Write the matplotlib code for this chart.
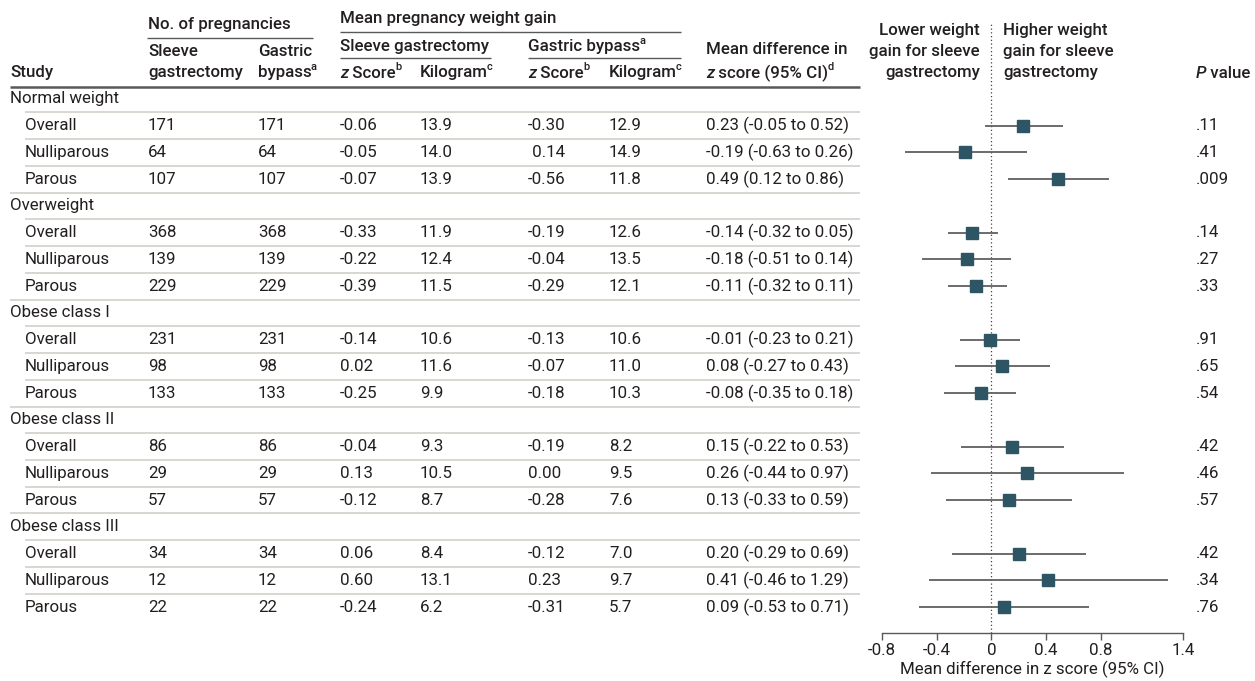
import matplotlib
matplotlib.use("Agg")
import matplotlib.pyplot as plt

plt.rcParams['font.family'] = ['Roboto', 'DejaVu Sans']
plt.rcParams['axes.unicode_minus'] = False

# ---- data -------------------------------------------------------------
groups = ["Normal weight", "Overweight", "Obese class I", "Obese class II", "Obese class III"]
subgroups = ["Overall", "Nulliparous", "Parous"]

n_sleeve = [171, 64, 107, 368, 139, 229, 231, 98, 133, 86, 29, 57, 34, 12, 22]
n_bypass = [171, 64, 107, 368, 139, 229, 231, 98, 133, 86, 29, 57, 34, 12, 22]

sleeve_z = ["-0.06", "-0.05", "-0.07", "-0.33", "-0.22", "-0.39", "-0.14", "0.02", "-0.25",
            "-0.04", "0.13", "-0.12", "0.06", "0.60", "-0.24"]
sleeve_kg = ["13.9", "14.0", "13.9", "11.9", "12.4", "11.5", "10.6", "11.6", "9.9",
             "9.3", "10.5", "8.7", "8.4", "13.1", "6.2"]
bypass_z = ["-0.30", " 0.14", "-0.56", "-0.19", "-0.04", "-0.29", "-0.13", "-0.07", "-0.18",
            "-0.19", "0.00", "-0.28", "-0.12", "0.23", "-0.31"]
bypass_kg = ["12.9", "14.9", "11.8", "12.6", "13.5", "12.1", "10.6", "11.0", "10.3",
             "8.2", "9.5", "7.6", "7.0", "9.7", "5.7"]

mean_diff = [0.23, -0.19, 0.49, -0.14, -0.18, -0.11, -0.01, 0.08, -0.08,
             0.15, 0.26, 0.13, 0.20, 0.41, 0.09]
ci_low = [-0.05, -0.63, 0.12, -0.32, -0.51, -0.32, -0.23, -0.27, -0.35,
          -0.22, -0.44, -0.33, -0.29, -0.46, -0.53]
ci_high = [0.52, 0.26, 0.86, 0.05, 0.14, 0.11, 0.21, 0.43, 0.18,
           0.53, 0.97, 0.59, 0.69, 1.29, 0.71]
p_values = [".11", ".41", ".009", ".14", ".27", ".33", ".91", ".65", ".54",
            ".42", ".46", ".57", ".42", ".34", ".76"]

x_ticks = [-0.8, -0.4, 0, 0.4, 0.8, 1.4]
x_tick_labels = ["-0.8", "-0.4", "0", "0.4", "0.8", "1.4"]

# ---- styling ----------------------------------------------------------
W, H = 1255, 681
TXT = "#231f20"
SEP = "#d2d0c8"
RULE = "#58595b"
SQUARE = "#2e5563"
WHISKER = "#606060"
FS = 12.2
FS_SUP = 8

fig = plt.figure(figsize=(W / 100, H / 100), dpi=100)
ax = fig.add_axes([0, 0, 1, 1])
ax.set_xlim(0, W)
ax.set_ylim(H, 0)
ax.axis("off")
renderer = fig.canvas.get_renderer()


def rich(x, y, pieces, size=FS, weight="normal"):
    """Draw a run of text pieces left to right; a piece is (text, kind)."""
    cx = x
    for text, kind in pieces:
        kw = dict(color=TXT, va="center", ha="left", fontweight=weight)
        if kind == "sup":
            t = ax.text(cx - 1.0, y - 5.5, text, fontsize=FS_SUP, **kw)
        elif kind == "it":
            t = ax.text(cx, y, text, fontsize=size, fontstyle="italic", **kw)
        else:
            t = ax.text(cx, y, text, fontsize=size, **kw)
        cx += t.get_window_extent(renderer).width
    return cx


def hline(y, x0, x1, color, lw):
    ax.plot([x0, x1], [y, y], color=color, lw=lw, solid_capstyle="butt")


# ---- header -----------------------------------------------------------
HW = "medium"
rich(148, 25, [("No. of pregnancies", "")], weight=HW)
hline(38, 147, 313, RULE, 1.0)
rich(340, 19, [("Mean pregnancy weight gain", "")], weight=HW)
hline(32, 340, 681, RULE, 1.0)
rich(340, 47, [("Sleeve gastrectomy", "")], weight=HW)
hline(58, 340, 491, RULE, 1.0)
rich(528, 47, [("Gastric bypass", ""), ("a", "sup")], weight=HW)
hline(58, 528, 681, RULE, 1.0)

rich(10, 73, [("Study", "")], weight=HW)
rich(148, 52, [("Sleeve", "")], weight=HW)
rich(148, 73, [("gastrectomy", "")], weight=HW)
rich(258, 52, [("Gastric", "")], weight=HW)
rich(258, 73, [("bypass", ""), ("a", "sup")], weight=HW)
rich(340, 73, [("z", "it"), (" Score", ""), ("b", "sup")], weight=HW)
rich(420, 73, [("Kilogram", ""), ("c", "sup")], weight=HW)
rich(528, 73, [("z", "it"), (" Score", ""), ("b", "sup")], weight=HW)
rich(609, 73, [("Kilogram", ""), ("c", "sup")], weight=HW)
rich(706, 50, [("Mean difference in", "")], weight=HW)
rich(706, 73, [("z", "it"), (" score (95% CI)", ""), ("d", "sup")], weight=HW)

for i, line in enumerate(["Lower weight", "gain for sleeve", "gastrectomy"]):
    ax.text(980, 31 + i * 20.5, line, fontsize=FS, fontweight=HW, color=TXT,
            ha="right", va="center")
for i, line in enumerate(["Higher weight", "gain for sleeve", "gastrectomy"]):
    ax.text(1003, 31 + i * 20.5, line, fontsize=FS, fontweight=HW, color=TXT,
            ha="left", va="center")
rich(1196, 73, [("P", "it"), (" value", "")], weight=HW)

hline(87, 10, 860, RULE, 1.8)

# ---- table body -------------------------------------------------------
ROW0, DY = 99, 26.74
n_rows = len(groups) * (len(subgroups) + 1)
row_y = [ROW0 + i * DY for i in range(n_rows)]

data_rows = []
r = 0
for g in groups:
    rich(10, row_y[r], [(g, "")])
    r += 1
    for s in subgroups:
        data_rows.append((r, s))
        r += 1

for k, (ri, s) in enumerate(data_rows):
    y = row_y[ri]
    rich(25, y, [(s, "")])
    rich(148, y, [(str(n_sleeve[k]), "")])
    rich(258, y, [(str(n_bypass[k]), "")])
    rich(340, y, [(sleeve_z[k], "")])
    rich(420, y, [(sleeve_kg[k], "")])
    rich(528, y, [(bypass_z[k], "")])
    rich(609, y, [(bypass_kg[k], "")])
    rich(706, y, [(f"{mean_diff[k]:.2f} ({ci_low[k]:.2f} to {ci_high[k]:.2f})", "")])
    rich(1196, y, [(p_values[k], "")])

for i in range(n_rows - 1):
    y = ROW0 + (i + 0.5) * DY
    group_end = (i + 1) % (len(subgroups) + 1) == 0
    hline(y, 10 if group_end else 25, 860, SEP, 1.2)

# ---- forest plot ------------------------------------------------------
X0, X1, YTOP, YAX = 882, 1183, 22, 633
fax = fig.add_axes([X0 / W, (H - YAX) / H, (X1 - X0) / W, (YAX - YTOP) / H])
fax.set_xlim(-0.8, 1.4)
fax.set_ylim(YAX, YTOP)
fax.patch.set_alpha(0)
for side in ("top", "right", "left"):
    fax.spines[side].set_visible(False)
fax.spines["bottom"].set_color(RULE)
fax.spines["bottom"].set_linewidth(1.0)
fax.set_yticks([])
fax.set_xticks(x_ticks)
fax.set_xticklabels(x_tick_labels)
fax.tick_params(axis="x", direction="out", length=5, width=1.0, color=RULE,
                labelsize=FS, labelcolor=TXT, pad=2)
fax.set_xlabel("Mean difference in z score (95% CI)", fontsize=FS, color=TXT, labelpad=2)

fax.axvline(0, color="#444444", lw=0.9, ls=(0, (1, 2)), zorder=1)

fy = [row_y[ri] for ri, _ in data_rows]
fax.hlines(fy, ci_low, ci_high, color=WHISKER, lw=1.3, zorder=2)
fax.plot(mean_diff, fy, ls="none", marker="s", ms=8, color=SQUARE, zorder=3)

fig.savefig("out.png", dpi=100)
